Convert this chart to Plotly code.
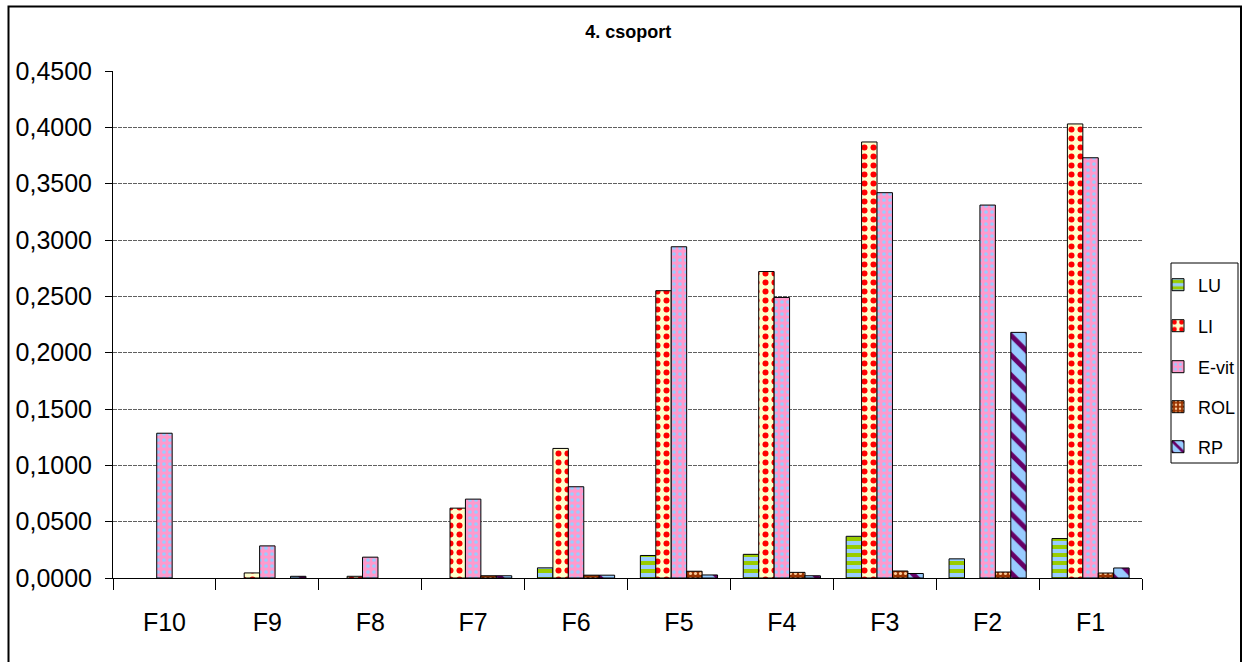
import plotly.graph_objects as go

categories = ["F10", "F9", "F8", "F7", "F6", "F5", "F4", "F3", "F2", "F1"]
lu   = [None, None, None, None, 0.009, 0.020, 0.021, 0.037, 0.017, 0.035]
li   = [None, 0.0045, 0.0015, 0.062, 0.115, 0.255, 0.272, 0.387, None, 0.403]
evit = [0.1285, 0.0285, 0.0185, 0.070, 0.081, 0.294, 0.249, 0.342, 0.331, 0.373]
rol  = [None, None, None, 0.002, 0.0025, 0.006, 0.005, 0.0062, 0.0053, 0.0044]
rp   = [None, 0.0015, None, 0.002, 0.0025, 0.0027, 0.002, 0.004, 0.218, 0.0089]
y_ticks = [i * 0.05 for i in range(10)]

FONT = "Liberation Sans, Arial, sans-serif"

W, H = 1243, 662
# plot area in pixels
L, R, T, B = 113, 1142, 71, 578
PW, PH = R - L, B - T

def px_x(x):
    return (x - L) / PW

def px_y(y):
    return (B - y) / PH

series = [
    ("LU", lu, dict(shape="-", bgcolor="#99ccff", fgcolor="#99cc00", size=8, solidity=0.5), 285),
    ("LI", li, dict(shape=".", bgcolor="#ffffcc", fgcolor="#ff0000", size=9, solidity=0.35), 326),
    ("E-vit", evit, dict(shape=".", bgcolor="#ff99cc", fgcolor="#99ccff", size=6, solidity=0.3), 367),
    ("ROL", rol, dict(shape=".", bgcolor="#993300", fgcolor="#ffcc99", size=5, solidity=0.3), 407),
    ("RP", rp, dict(shape="\\", bgcolor="#99ccff", fgcolor="#660066", size=14, solidity=0.35), 447),
]

fig = go.Figure()
legends = {}
for i, (name, vals, pat, ly) in enumerate(series):
    lname = "legend" if i == 0 else f"legend{i + 1}"
    fig.add_trace(go.Bar(
        name=name, x=categories, y=vals, legend=lname,
        marker=dict(color=pat["bgcolor"], pattern=dict(fillmode="replace", **pat),
                    line=dict(color="black", width=1)),
    ))
    legends[lname] = dict(x=px_x(1158), xanchor="left", y=px_y(ly), yanchor="middle",
                          borderwidth=0, bgcolor="rgba(0,0,0,0)",
                          font=dict(family=FONT, size=18, color="black"))

fig.update_layout(
    width=W, height=H,
    margin=dict(l=L, r=W - R, t=T, b=H - B, autoexpand=False),
    paper_bgcolor="white", plot_bgcolor="white",
    barmode="group", bargap=0.25, bargroupgap=0,
    separators=", ",
    font=dict(family=FONT, color="black"),
    title=dict(text="<b>4. csoport</b>", x=px_x(633), xanchor="center",
               y=1 - 32 / H, yanchor="middle",
               font=dict(family=FONT, size=18, color="black")),
    showlegend=True,
    xaxis=dict(type="category", showline=True, linecolor="black", linewidth=1,
               ticks="outside", tickson="boundaries", ticklen=11, tickcolor="black",
               tickfont=dict(family=FONT, size=25), ticklabelstandoff=22,
               showgrid=False),
    yaxis=dict(range=[0, 0.45], tickvals=y_ticks, tickformat=".4f",
               showline=True, linecolor="black", linewidth=1,
               ticks="outside", ticklen=7, tickcolor="black",
               tickfont=dict(family=FONT, size=25), ticklabelstandoff=8,
               showgrid=True, gridcolor="#606060", gridwidth=1, griddash="4px,1px",
               zeroline=False),
    shapes=[
        dict(type="rect", xref="paper", yref="paper",
             x0=px_x(8.5), x1=px_x(1241), y0=px_y(672), y1=px_y(6.5),
             line=dict(color="black", width=2), fillcolor="rgba(0,0,0,0)"),
        dict(type="rect", xref="paper", yref="paper",
             x0=px_x(1171), x1=px_x(1238), y0=px_y(463), y1=px_y(263),
             line=dict(color="black", width=1), fillcolor="rgba(0,0,0,0)"),
    ],
)
fig.update_layout(**legends)

fig.write_html(
    "out.html",
    config={"displayModeBar": False},
    post_script="document.body.style.margin='0px';document.documentElement.style.overflow='hidden';",
)
